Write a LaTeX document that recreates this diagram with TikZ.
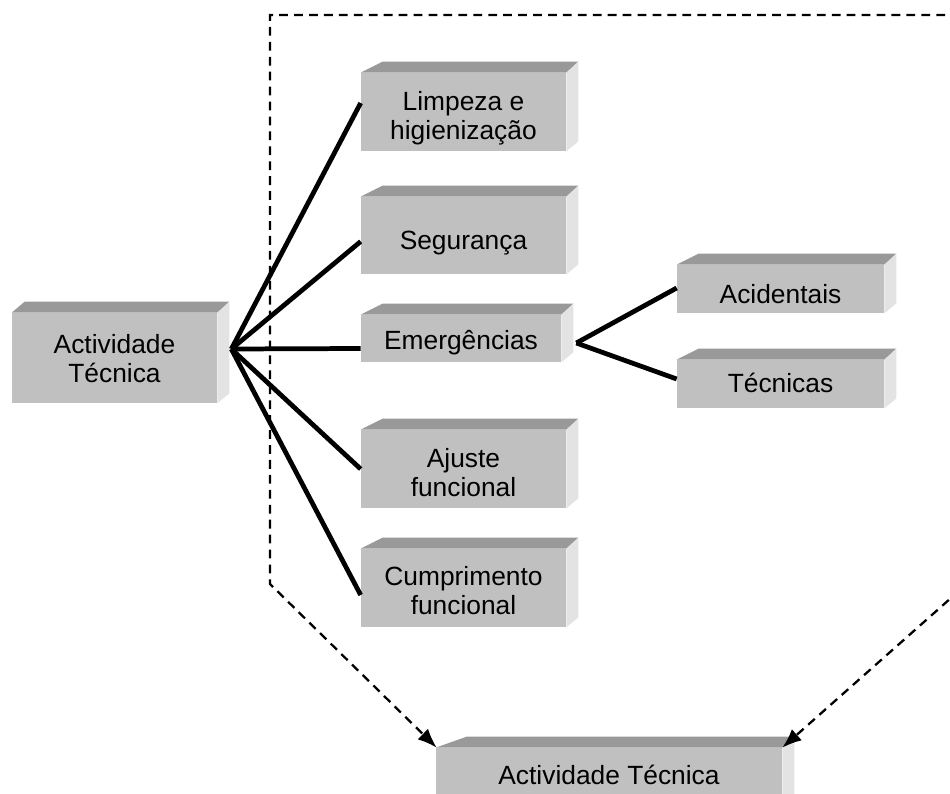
\documentclass[tikz,border=0pt]{standalone}
\usepackage{fontspec}
\setmainfont{Liberation Sans}
\usetikzlibrary{arrows.meta}
\definecolor{boxfront}{HTML}{C0C0C0}
\definecolor{boxtop}{HTML}{999999}
\definecolor{boxside}{HTML}{E3E3E3}

\begin{document}
\begin{tikzpicture}[x=0.02cm,y=-0.02cm,
        box/.style={rectangle,fill=boxfront,inner sep=0pt,align=center,
            font=\fontsize{15}{17}\selectfont},
        midbox/.style={box,minimum width=4.1cm,minimum height=1.56cm},
        sidebox/.style={box,minimum width=4.14cm,minimum height=0.96cm},
        link/.style={black,line width=2.7pt},
        flow/.style={black,line width=1.3pt,dash pattern=on 5pt off 3.5pt,
            -{Latex[length=11pt,width=8.5pt]}}]
        \useasboundingbox (0,0) rectangle (950,794);

        % front faces
        \node[box,minimum width=4.1cm,minimum height=1.8cm,
            text height=30.4pt,text depth=2pt] (act) at (114.5,358) {Actividade\\Técnica};
        \node[midbox,text height=33.8pt,text depth=2pt] (limp) at (463.5,112) {Limpeza e\\higienização};
        \node[midbox,minimum height=1.54cm,text height=18.4pt,text depth=2pt] (seg) at (463.5,235.5) {Segurança};
        \node[box,minimum width=4cm,minimum height=0.94cm,
            text height=14pt,text depth=2pt] (emer) at (461,338.5) {Emergências};
        \node[midbox,text height=33.8pt,text depth=2pt] (ajus) at (463.5,469) {Ajuste\\funcional};
        \node[midbox,text height=32.6pt,text depth=2pt] (cump) at (463.5,588) {Cumprimento\\funcional};
        \node[sidebox,text height=18pt,text depth=2pt] (acid) at (780.5,289) {Acidentais};
        \node[sidebox,text height=12.2pt,text depth=2pt] (tecn) at (780.5,384) {Técnicas};
        \node[box,minimum width=6.92cm,minimum height=1.24cm,
            text height=8.8pt,text depth=2pt] (fin) at (609,779) {Actividade Técnica};

        % top and side faces
        \foreach \n/\d in {act/13,limp/22,seg/22,emer/22,ajus/22,cump/22,acid/22,tecn/22,fin/31}{
            \fill[boxtop] (\n.north west) -- ++(\d,-11)
                -- ([shift={(12,-11)}]\n.north east) -- (\n.north east) -- cycle;
            \fill[boxside] (\n.north east) -- ++(12,-11)
                -- ([shift={(12,-10)}]\n.south east) -- (\n.south east) -- cycle;
        }

        % connectors
        \coordinate (actR) at ([shift={(14,-9)}]act.east);
        \coordinate (emerR) at ([shift={(15,4.5)}]emer.east);
        \foreach \n/\s in {limp/-9,seg/6,emer/10,ajus/0,cump/7}
            \draw[link] (actR) -- ([shift={(0,\s)}]\n.west);
        \draw[link] (emerR) -- ([shift={(0,-1)}]acid.west);
        \draw[link] (emerR) -- ([shift={(0,-5)}]tecn.west);

        % dashed return paths
        \coordinate (topR) at (960,15);
        \coordinate (topL) at (270,15);
        \coordinate (botL) at (270,584);
        \coordinate (rightS) at (960,590);
        \draw[flow] (topR) -- (topL) -- (botL) -- ([shift={(1,0)}]fin.north west);
        \draw[flow] (rightS) -- (fin.north east);
    \end{tikzpicture}
\end{document}
